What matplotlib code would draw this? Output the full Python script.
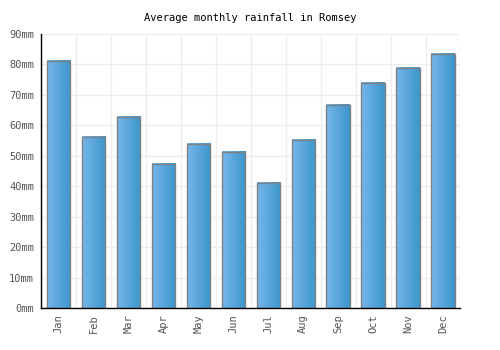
import matplotlib
matplotlib.use("Agg")
import matplotlib.pyplot as plt
import numpy as np
from matplotlib.colors import LinearSegmentedColormap

months = ["Jan", "Feb", "Mar", "Apr", "May", "Jun", "Jul", "Aug", "Sep", "Oct", "Nov", "Dec"]
rainfall = [81.1, 56.2, 62.8, 47.3, 53.9, 51.2, 41.1, 55.2, 66.7, 73.9, 78.8, 83.4]
yticks = [0, 10, 20, 30, 40, 50, 60, 70, 80, 90]
ytick_labels = [f"{v}mm" for v in yticks]
title = "Average monthly rainfall in Romsey"

plt.rcParams['font.family'] = ['DejaVu Sans Mono']
fig = plt.figure(figsize=(5, 3.5), dpi=100)
ax = fig.add_axes([0.082, 0.119, 0.839, 0.784])

x = np.arange(len(months))
bars = ax.bar(x, rainfall, width=0.667, facecolor='none', edgecolor='#808080', linewidth=1.0, zorder=3)

cmap = LinearSegmentedColormap.from_list('g', ['#76b6ea', '#3c96cc'])
grad = np.linspace(0, 1, 64).reshape(1, -1)
for b in bars:
    x0, w, h = b.get_x(), b.get_width(), b.get_height()
    ax.imshow(grad, cmap=cmap, extent=[x0, x0 + w, 0, h], aspect='auto', zorder=2, interpolation='bilinear')

ax.set_xlim(-0.5, len(months) - 0.5)
ax.set_ylim(0, 90)
ax.set_yticks(yticks)
ax.set_yticklabels(ytick_labels, color='#555555', fontsize=7.5)
ax.set_xticks(x)
ax.set_xticklabels(months, rotation=90, color='#555555', fontsize=7.5)
ax.set_xticks(np.arange(-0.5, len(months), 1), minor=True)
ax.grid(False)
ax.yaxis.grid(True, color='#eeeeee', linewidth=1, zorder=0)
ax.xaxis.grid(True, which='minor', color='#eeeeee', linewidth=1, zorder=0)
ax.tick_params(axis='y', which='both', length=0, pad=5)
ax.tick_params(axis='x', which='both', length=0, pad=4)
ax.set_axisbelow(True)
for s in ['top', 'right']:
    ax.spines[s].set_visible(False)
for s in ['left', 'bottom']:
    ax.spines[s].set_color('black')
    ax.spines[s].set_linewidth(1.0)
    ax.spines[s].set_zorder(4)

fig.text(0.5, 0.949, title, ha='center', va='center', fontsize=7.5, color='black')
fig.savefig("out.png", dpi=100, facecolor='white')
